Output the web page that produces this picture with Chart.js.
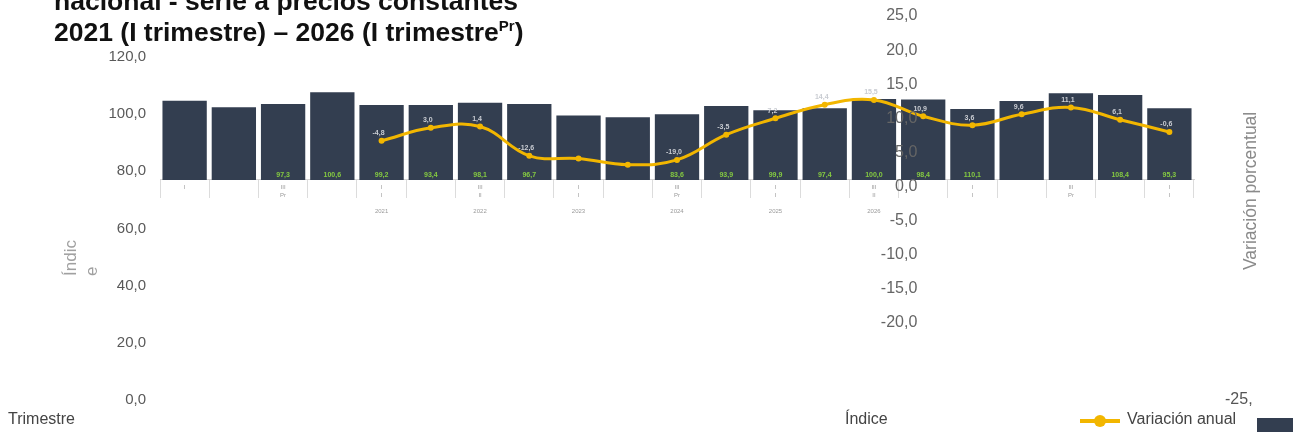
<!DOCTYPE html>
<html lang="es">
<head>
<meta charset="utf-8">
<script src="https://cdn.jsdelivr.net/npm/chart.js@4.4.1/dist/chart.umd.min.js"></script>
<style>
  html, body { margin: 0; padding: 0; background: #fff; }
  #wrap { position: relative; width: 1293px; height: 432px; overflow: hidden; font-family: "Liberation Sans", Arial, sans-serif; }
  #chart { position: absolute; left: 0; top: 0; }
  .txt { position: absolute; white-space: nowrap; }
  #title { left: 54px; top: -14px; font-size: 26.5px; font-weight: bold; line-height: 31px; color: #111; }
  #title sup { font-size: 15px; line-height: 0; }
  #yTitle { left: 60px; top: 228px; width: 48px; height: 40px; transform-origin: 0 0; transform: rotate(-90deg) translate(-48px, 0); font-size: 17px; color: #a0a0a0; line-height: 21px; }
  #y1Title { left: 1240px; top: 270px; transform-origin: 0 0; transform: rotate(-90deg); font-size: 17.5px; color: #8a8a8a; }
  #xTitle { left: 8px; top: 410px; font-size: 16px; color: #444; }
  #legIndice { left: 845px; top: 410px; font-size: 16px; color: #444; }
  #legVar { left: 1127px; top: 410px; font-size: 16px; color: #444; }
  #legLine { position: absolute; left: 1080px; top: 419px; width: 40px; height: 4px; background: #f2b600; }
  #legDot { position: absolute; left: 1094px; top: 415px; width: 12px; height: 12px; border-radius: 50%; background: #f2b600; }
  #legBox { position: absolute; left: 1257px; top: 418px; width: 36px; height: 14px; background: #333e50; }
  #stray { left: 1225px; top: 390px; font-size: 16px; color: #555; }
</style>
</head>
<body>
<div id="wrap">
  <canvas id="chart" width="1293" height="432"></canvas>
  <div id="title" class="txt">nacional - serie a precios constantes<br>2021 (I trimestre) – 2026 (I trimestre<sup>Pr</sup>)</div>
  <div id="yTitle" class="txt">Índic<br>e</div>
  <div id="y1Title" class="txt">Variación porcentual</div>
  <div id="xTitle" class="txt">Trimestre</div>
  <div id="legIndice" class="txt">Índice</div>
  <div id="legLine"></div><div id="legDot"></div>
  <div id="legVar" class="txt">Variación anual</div>
  <div id="legBox"></div>
  <div id="stray" class="txt">-25,</div>
</div>
<script>
// quarters 2021 I .. 2026 I
const quarters = ['I','II','III','IV','I','II','III','IV','I','II','III','IV','I','II','III','IV','I','II','III','IV','I'];
const subRow   = ['','','Pr','','I','','II','','I','','Pr','','I','','II','','I','','Pr','','I'];
const yearRow  = ['','','','','2021','','2022','','2023','','2024','','2025','','2026','','','','','',''];

// index (bars) and annual variation (line)
const indexValues = [104.7,102.4,103.6,107.7,103.2,103.2,104.0,103.6,99.5,98.9,100.0,102.9,101.4,102.1,105.3,105.1,101.8,104.6,107.3,106.7,102.1];
const annualVar   = [null,null,null,null,6.7,8.6,8.8,4.5,4.1,3.2,3.9,7.6,10.0,12.0,12.7,10.3,9.0,10.6,11.6,9.8,8.0];

// labels printed on the marks
const indexLabels  = [null,null,'97,3','100,6','99,2','93,4','98,1','96,7',null,null,'83,6','93,9','99,9','97,4','100,0','98,4','110,1',null,null,'108,4','95,3'];
const changeLabels = [null,null,null,null,'-4,8','3,0','1,4','-12,6',null,null,'-19,0','-3,5','7,2','14,4','15,5','10,9','3,6','9,6','11,1','6,1','-0,6'];

const leftTicks = [0,20,40,60,80,100,120];
const rightTicks = [25,20,15,10,5,0,-5,-10,-15,-20];

const BAR_BASE = 77;
const fmt = v => v.toFixed(1).replace('.', ',');
const noPad = s => { s.paddingTop = 0; s.paddingBottom = 0; s.paddingLeft = 0; s.paddingRight = 0; };

const markLabels = {
  id: 'markLabels',
  afterDatasetsDraw(chart) {
    const ctx = chart.ctx;
    ctx.save();
    ctx.textAlign = 'center';
    ctx.textBaseline = 'bottom';
    ctx.font = 'bold 7px "Liberation Sans", Arial';
    ctx.fillStyle = '#84c941';
    chart.getDatasetMeta(0).data.forEach((el, i) => {
      if (indexLabels[i]) ctx.fillText(indexLabels[i], el.x, el.base - 1);
    });
    ctx.fillStyle = '#c9ccd2';
    chart.getDatasetMeta(1).data.forEach((el, i) => {
      if (changeLabels[i] && !el.skip) ctx.fillText(changeLabels[i], el.x - 3, el.y - 4);
    });
    ctx.restore();
  }
};

new Chart(document.getElementById('chart'), {
  data: {
    labels: quarters.map((q, i) => [q, subRow[i], '', yearRow[i]]),
    datasets: [
      {
        type: 'bar',
        label: 'Índice',
        data: indexValues,
        base: BAR_BASE,
        backgroundColor: '#333e50',
        barPercentage: 0.9,
        categoryPercentage: 1.0,
        yAxisID: 'y',
        order: 1
      },
      {
        type: 'line',
        label: 'Variación anual',
        data: annualVar,
        borderColor: '#f2b600',
        backgroundColor: '#f2b600',
        borderWidth: 3,
        tension: 0.4,
        pointRadius: 1.5,
        yAxisID: 'y1',
        order: 0
      }
    ]
  },
  options: {
    responsive: false,
    animation: false,
    layout: { padding: { left: 0, right: 99, top: 16, bottom: 32 } },
    plugins: { legend: { display: false }, tooltip: { enabled: false } },
    scales: {
      x: {
        position: { y: BAR_BASE },
        offset: true,
        afterFit: s => { s.height = 0; noPad(s); },
        grid: { display: true, drawOnChartArea: false, drawTicks: true, tickLength: 18, color: '#dcdcdc', offset: true },
        border: { display: true, color: '#d4d4d4' },
        ticks: {
          autoSkip: false, maxRotation: 0, padding: -14, color: '#9a9a9a', font: { size: 6, lineHeight: 1.3 },
          callback: function (v, i) { return i % 2 ? '' : this.getLabelForValue(v); }
        }
      },
      y: {
        position: 'left',
        min: 0,
        max: 134.35,
        afterFit: s => { s.width = 160; noPad(s); },
        afterBuildTicks: s => { s.ticks = leftTicks.map(v => ({ value: v })); },
        grid: { display: false, drawTicks: false },
        border: { display: false },
        ticks: { padding: 14, color: '#595959', font: { family: '"Liberation Sans", Arial', size: 15 }, callback: v => fmt(v) }
      },
      y1: {
        position: { x: 14.88 },
        min: -31.3,
        max: 25,
        afterFit: s => { s.width = 0; noPad(s); },
        afterBuildTicks: s => { s.ticks = rightTicks.map(v => ({ value: v })); },
        grid: { display: false, drawTicks: false },
        border: { display: false },
        ticks: { z: 1, padding: 0, color: '#656565', font: { family: '"Liberation Sans", Arial', size: 16 }, callback: v => fmt(v) }
      }
    }
  },
  plugins: [markLabels]
});
</script>
</body>
</html>
